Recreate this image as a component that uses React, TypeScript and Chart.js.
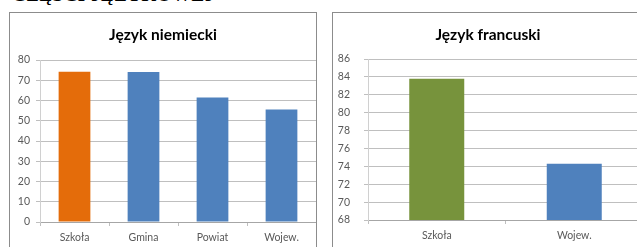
import React, { useEffect, useRef } from "react";
import { Chart, registerables } from "chart.js";

Chart.register(...registerables);

const headingText = "CZĘŚCI JĘZYKOWEJ";

const germanTitle = "Język niemiecki";
const germanCategories = ["Szkoła", "Gmina", "Powiat", "Wojew."];
const germanValues = [74.2, 74.1, 61.5, 55.5];
const germanColors = ["#E46C0A", "#4F81BD", "#4F81BD", "#4F81BD"];
const germanMin = 0;
const germanMax = 80;
const germanStep = 10;

const frenchTitle = "Język francuski";
const frenchCategories = ["Szkoła", "Wojew."];
const frenchValues = [83.8, 74.3];
const frenchColors = ["#77933C", "#4F81BD"];
const frenchMin = 68;
const frenchMax = 86;
const frenchStep = 2;

const FONT = "Lato, 'Open Sans', sans-serif";
const TICK_COLOR = "#595959";
const GRID_COLOR = "#BFBFBF";

type Cfg = {
  title: string;
  categories: string[];
  values: number[];
  colors: string[];
  min: number;
  max: number;
  step: number;
  yWidth: number;
  yPad: number;
  xHeight: number;
  titleBottom: number;
  barPct: number;
};

function BarBox(props: { cfg: Cfg; width: number; height: number }) {
  const ref = useRef<HTMLCanvasElement | null>(null);
  const { cfg, width, height } = props;
  useEffect(() => {
    if (!ref.current) return;
    const chart = new Chart(ref.current, {
      type: "bar",
      data: {
        labels: cfg.categories,
        datasets: [
          {
            data: cfg.values,
            backgroundColor: cfg.colors,
            borderWidth: 0,
            categoryPercentage: 1,
            barPercentage: cfg.barPct,
          },
        ],
      },
      options: {
        animation: false,
        responsive: false,
        maintainAspectRatio: false,
        layout: { padding: { left: 0, right: 0, top: 0, bottom: 0 } },
        plugins: {
          legend: { display: false },
          tooltip: { enabled: false },
          title: {
            display: true,
            text: cfg.title,
            color: "#000000",
            font: { family: FONT, size: 15.5, weight: "bold" },
            padding: { top: 12.7, bottom: cfg.titleBottom },
          },
        },
        scales: {
          x: {
            afterFit: (s: any) => {
              s.height = cfg.xHeight;
            },
            grid: {
              display: true,
              offset: true,
              drawOnChartArea: false,
              drawTicks: true,
              tickLength: 4,
              color: GRID_COLOR,
            },
            border: { display: true, color: "#A6A6A6" },
            ticks: {
              color: TICK_COLOR,
              font: { family: FONT, size: 10.5 },
              padding: 5,
              maxRotation: 0,
            },
          },
          y: {
            min: cfg.min,
            max: cfg.max,
            afterFit: (s: any) => {
              s.width = cfg.yWidth;
            },
            grid: {
              color: GRID_COLOR,
              tickLength: 4,
              drawTicks: true,
            },
            border: { display: true, color: "#D0D0D0" },
            ticks: {
              stepSize: cfg.step,
              color: TICK_COLOR,
              font: { family: FONT, size: 10.5 },
              padding: cfg.yPad,
            },
          },
        },
      },
    });
    return () => chart.destroy();
  }, []);
  return <canvas ref={ref} width={width} height={height} style={{ display: "block", width, height }} />;
}

export default function App() {
  const germanCfg: Cfg = {
    title: germanTitle,
    categories: germanCategories,
    values: germanValues,
    colors: germanColors,
    min: germanMin,
    max: germanMax,
    step: germanStep,
    yWidth: 30,
    yPad: 6,
    xHeight: 31,
    titleBottom: 15.7,
    barPct: 0.46,
  };
  const frenchCfg: Cfg = {
    title: frenchTitle,
    categories: frenchCategories,
    values: frenchValues,
    colors: frenchColors,
    min: frenchMin,
    max: frenchMax,
    step: frenchStep,
    yWidth: 35,
    yPad: 14,
    xHeight: 33,
    titleBottom: 14.7,
    barPct: 0.4,
  };
  return (
    <div
      style={{
        position: "fixed",
        left: 0,
        top: 0,
        width: 637,
        height: 247,
        overflow: "hidden",
        background: "#ffffff",
      }}
    >
      <div
        style={{
          position: "absolute",
          left: 12,
          top: -15.5,
          fontFamily: "'Liberation Serif', serif",
          fontWeight: "bold",
          fontSize: 19,
          lineHeight: "20px",
          letterSpacing: 0.5,
          whiteSpace: "nowrap",
          color: "#000",
        }}
      >
        {headingText}
      </div>
      <div
        style={{
          position: "absolute",
          left: 9,
          top: 12,
          width: 306,
          height: 260,
          border: "1px solid #8C8C8C",
          background: "#fff",
        }}
      >
        <BarBox cfg={germanCfg} width={306} height={240} />
      </div>
      <div
        style={{
          position: "absolute",
          left: 332,
          top: 12,
          width: 310,
          height: 260,
          border: "1px solid #8C8C8C",
          background: "#fff",
        }}
      >
        <BarBox cfg={frenchCfg} width={310} height={240} />
      </div>
    </div>
  );
}
